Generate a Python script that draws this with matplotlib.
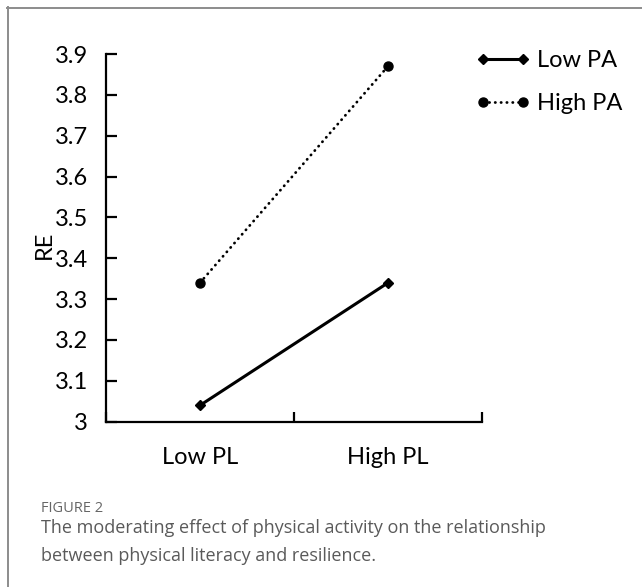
import matplotlib
matplotlib.use("Agg")
import matplotlib.pyplot as plt
from matplotlib.lines import Line2D

categories = ["Low PL", "High PL"]
series_names = ["Low PA", "High PA"]
low_pa = [3.04, 3.34]
high_pa = [3.34, 3.87]
yticks = [3.0, 3.1, 3.2, 3.3, 3.4, 3.5, 3.6, 3.7, 3.8, 3.9]
ytick_labels = ["3", "3.1", "3.2", "3.3", "3.4", "3.5", "3.6", "3.7", "3.8", "3.9"]
y_label = "RE"
caption_head = "FIGURE 2"
caption_lines = ["The moderating effect of physical activity on the relationship",
                 "between physical literacy and resilience."]

W, H = 642, 587
fig = plt.figure(figsize=(W / 100, H / 100), dpi=100)
font = "Lato"
fs = 17

ax = fig.add_axes([106 / W, 1 - 421.7 / H, (482 - 106) / W, (421.7 - 54) / H])
xpos = [0.5, 1.5]
ax.plot(xpos, low_pa, color="black", lw=2.2, marker="D", ms=5, label=series_names[0])
ax.plot(xpos, high_pa, color="black", lw=2.0, ls=(0, (0.1, 2.0)), marker="o", ms=6.5,
        dash_capstyle="round", label=series_names[1])

ax.set_xlim(0, 2)
ax.set_ylim(3.0, 3.9)
for s in ["top", "right"]:
    ax.spines[s].set_visible(False)
for s in ["left", "bottom"]:
    ax.spines[s].set_linewidth(1.6)

ax.set_yticks(yticks)
ax.set_yticklabels(ytick_labels, fontsize=fs, family=font)
ax.tick_params(axis="y", direction="in", length=7.7, width=1.6, pad=13)

ax.set_xticks([0, 1, 2])
ax.set_xticklabels([])
ax.tick_params(axis="x", which="major", direction="in", length=7.5, width=1.6)
ax.set_xticks(xpos, minor=True)
ax.set_xticklabels(categories, minor=True, fontsize=fs, family=font)
ax.tick_params(axis="x", which="minor", length=0, pad=18)

fig.text(44 / W, 1 - 245 / H, y_label, rotation=90, ha="center", va="center",
         fontsize=fs, family=font)

leg = fig.legend(loc="upper left", bbox_to_anchor=(476 / W, 1 - 50 / H),
                 frameon=False, prop={"family": font, "size": fs}, numpoints=2,
                 handlelength=2.3, handletextpad=0.3, labelspacing=0.95, borderpad=0,
                 borderaxespad=0)

# caption
fig.text(41 / W, 1 - 512 / H, caption_head, fontsize=10.5, color="#666666",
         family="Open Sans", va="baseline")
fig.text(41 / W, 1 - 533 / H, caption_lines[0], fontsize=13, color="#5a5a5a",
         family="Open Sans", va="baseline")
fig.text(41 / W, 1 - 561 / H, caption_lines[1], fontsize=13, color="#5a5a5a",
         family="Open Sans", va="baseline")

# border
fig.add_artist(Line2D([7 / W, 1.0], [1 - 7.5 / H, 1 - 7.5 / H], transform=fig.transFigure,
                      color="#8c8c8c", lw=1.4))
fig.add_artist(Line2D([7.5 / W, 7.5 / W], [0, 1 - 7 / H], transform=fig.transFigure,
                      color="#8c8c8c", lw=1.4))

fig.savefig("out.png", dpi=100)
